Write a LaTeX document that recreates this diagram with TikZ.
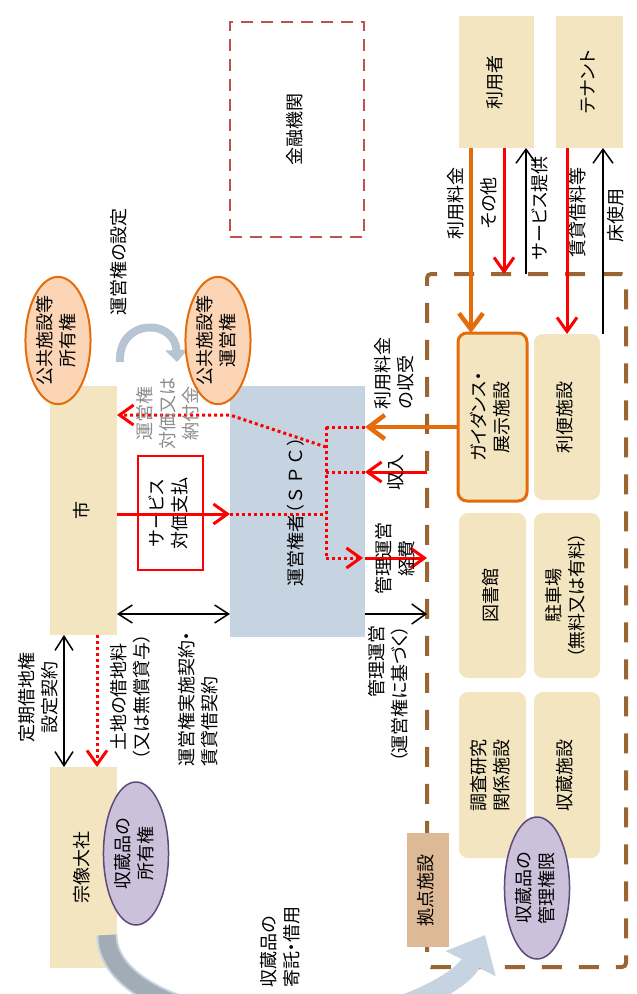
\documentclass[tikz,border=0pt]{standalone}
\usepackage{fontspec}
\usepackage{graphicx}
\newfontfamily\jpfont[RawFeature={+palt}]{Noto Sans CJK JP}
\usetikzlibrary{arrows.meta,shapes.geometric}
\definecolor{beige}{HTML}{F2E5C0}
\definecolor{spcblue}{HTML}{C6D3E0}
\definecolor{ellfill}{HTML}{FBD5B5}
\definecolor{orline}{HTML}{E46C0A}
\definecolor{purfill}{HTML}{CCC1DA}
\definecolor{purline}{HTML}{5F497A}
\definecolor{basefill}{HTML}{DDB995}
\definecolor{brownd}{HTML}{996633}
\definecolor{bankred}{HTML}{C0504D}
\definecolor{redl}{HTML}{FF0000}
\definecolor{graytxt}{HTML}{8C8C8C}
\definecolor{arrdark}{HTML}{A2ACB7}
\definecolor{arrlight}{HTML}{C6D3E0}
\definecolor{arrmid}{HTML}{B7C5D3}
\newcommand{\vtxt}[1]{\rotatebox{90}{\begin{tabular}{@{}c@{}}#1\end{tabular}}}
\newcommand{\vtxtl}[1]{\rotatebox{90}{\begin{tabular}{@{}l@{}}#1\end{tabular}}}
\newcommand{\vtxtr}[1]{\rotatebox{90}{\begin{tabular}{@{}r@{}}#1\end{tabular}}}
\begin{document}
\begin{tikzpicture}[x=1pt,y=-1pt,
  every node/.style={font=\jpfont\fontsize{18}{23}\selectfont, inner sep=0pt, outer sep=0pt},
  bx/.style={rectangle, fill=beige, draw=none},
  rbx/.style={rectangle, fill=beige, draw=none, rounded corners=9pt},
  oell/.style={ellipse, fill=ellfill, draw=orline, line width=2pt},
  pell/.style={ellipse, fill=purfill, draw=purline, line width=1.5pt},
  rsolid/.style={draw=redl, line width=3pt},
  rdot/.style={draw=redl, line width=3pt, dash pattern=on 3pt off 3pt},
  bsolid/.style={draw=black, line width=1.5pt},
  osolid/.style={draw=orline, line width=4.5pt},
  tipend/.style={-{Straight Barb[length=14pt,width=20pt]}},
  tipboth/.style={{Straight Barb[length=14pt,width=18pt]}-{Straight Barb[length=14pt,width=18pt]}},
  tipor/.style={-{Straight Barb[length=16pt,width=24pt]}}
]
\useasboundingbox (0,0) rectangle (637,994);

% financial institution
\node[draw=bankred, line width=2.5pt, dash pattern=on 12pt off 8pt, minimum width=134pt, minimum height=215pt] (bank) at (297,129.5) {\vtxt{金融機関}};

% users / tenants
\node[bx, minimum width=75pt, minimum height=132pt] (user) at (496.5,82) {\vtxt{利用者}};
\node[bx, minimum width=67pt, minimum height=132pt] (tenant) at (589.5,82) {\vtxt{テナント}};

% dashed facility area
\node[draw=brownd, line width=4pt, dash pattern=on 20pt off 17pt, rounded corners=4pt, minimum width=199pt, minimum height=693pt] (area) at (526.5,620.5) {};

% inner facilities
\node[rbx, draw=orline, line width=3pt, minimum width=69pt, minimum height=168pt] (guide) at (492.5,417) {\vtxt{ガイダンス・\\展示施設}};
\node[rbx, minimum width=66pt, minimum height=166pt] (conv) at (567,417) {\vtxt{利便施設}};
\node[rbx, minimum width=67pt, minimum height=165pt] (lib) at (492.5,595.5) {\vtxt{図書館}};
\node[rbx, minimum width=66pt, minimum height=165pt] (park) at (567,595.5) {\vtxt{駐車場\\（無料又は有料）}};
\node[rbx, minimum width=67pt, minimum height=166pt] (research) at (492.5,775) {\vtxt{調査研究\\関係施設}};
\node[rbx, minimum width=66pt, minimum height=166pt] (storage) at (567,775) {\vtxt{収蔵施設}};
\node[rectangle, fill=basefill, minimum width=42pt, minimum height=114pt] (base) at (428,890) {\vtxt{拠点施設}};

% left side boxes
\node[bx, minimum width=67pt, minimum height=249pt] (city) at (83.5,510.5) {\vtxt{市}};
\node[bx, minimum width=67pt, minimum height=201pt] (shrine) at (83.5,867.5) {\vtxt{宗像大社}};
\node[rectangle, fill=spcblue, minimum width=135pt, minimum height=251pt] (spc) at (297.5,511.5) {\vtxt{運営権者（\hspace{3pt}Ｓ\hspace{6pt}Ｐ\hspace{6pt}Ｃ\hspace{3pt}）}};
\node[rectangle, fill=white, draw=redl, line width=1.5pt, minimum width=65pt, minimum height=114pt] (svc) at (170.5,513) {\vtxt{サービス\\対価支払}};

% helper coordinates
\coordinate (xo) at (471,0);
\coordinate (xa) at (504,0);
\coordinate (xb) at (526,0);
\coordinate (xc) at (567,0);
\coordinate (xd) at (603,0);
\coordinate (xe) at (64,0);
\coordinate (xf) at (97,0);
\coordinate (xg) at (326,0);
\coordinate (ya) at (0,427);
\coordinate (yb) at (0,472);
\coordinate (yc) at (0,558);
\coordinate (yd) at (0,614);
\coordinate (ye) at (0,514);
\coordinate (yf) at (0,447);
\coordinate (yg) at (0,415);

% top connectors
\draw[osolid, tipor] (user.south -| xo) -- (guide.north -| xo);
\draw[rsolid, tipend] (user.south -| xa) -- (area.north -| xa);
\draw[bsolid, tipend] (area.north -| xb) -- (user.south -| xb);
\draw[rsolid, tipend] (tenant.south -| xc) -- (conv.north -| xc);
\draw[bsolid, tipend] (conv.north -| xd) -- (tenant.south -| xd);

% middle connectors
\draw[rdot] (xg |- ya) -- (spc.east |- ya);
\draw[rdot] (xg |- yb) -- (spc.east |- yb);
\draw[rdot] (xg |- ya) -- (xg |- yc);
\draw[rdot] (spc.west |- ye) -- (xg |- ye);
\draw[rdot, tipend] (xg |- yc) -- ([xshift=-2pt]spc.east |- yc);
\draw[rdot, tipend] (xg |- yf) -- (spc.west |- yg) -- (city.east |- yg);
\draw[osolid, tipor] (guide.west |- ya) -- (spc.east |- ya);
\draw[rsolid, tipend] (area.west |- yb) -- (spc.east |- yb);
\draw[rsolid, tipend] (spc.east |- yc) -- (area.west |- yc);
\draw[bsolid, tipend] (spc.east |- yd) -- (area.west |- yd);
\draw[rsolid, tipend] (city.east |- ye) -- (spc.west |- ye);
\draw[bsolid, tipboth] (city.east |- yd) -- (spc.west |- yd);
\draw[bsolid, tipboth] (city.south -| xe) -- (shrine.north -| xe);
\draw[rdot, tipend] (city.south -| xf) -- (shrine.north -| xf);

% curved arrows
\coordinate (ca1) at (120,362);
\coordinate (ca2) at (177,362);
\draw[draw=arrmid, line width=8pt, -{Triangle[length=12pt,width=22pt]}] (ca1) .. controls (118,318) and (175,318) .. (ca2);

\begin{scope}
\clip (0,0) rectangle (637,994);
\coordinate (cb1) at (107,935);
\coordinate (cb0) at (287,1024);
\coordinate (cb2) at (485,935);
\draw[draw=arrlight, line width=20pt, -{Triangle[length=32pt,width=54pt]}] (cb0) .. controls (380,1026) and (460,985) .. (cb2);
\draw[draw=arrlight, line width=21pt] (cb1) .. controls (107,990) and (200,1022) .. (cb0);
\draw[draw=arrdark, line width=17pt] (cb1) .. controls (107,990) and (200,1022) .. (cb0);
\end{scope}

% ellipses
\node[oell, minimum width=62pt, minimum height=127pt] (own) at (58,340.5) {\vtxt{公共施設等\\所有権}};
\node[oell, minimum width=62pt, minimum height=127pt] (opr) at (218,340.5) {\vtxt{公共施設等\\運営権}};
\node[pell, minimum width=62pt, minimum height=143pt] (colown) at (136,853.5) {\vtxt{収蔵品の\\所有権}};
\node[pell, minimum width=62pt, minimum height=142pt] (mgmt) at (537,888) {\vtxt{収蔵品の\\管理権限}};

% labels
\node (l1) at (458,203) {\vtxt{利用料金}};
\node (l2) at (491,203) {\vtxt{その他}};
\node (l3) at (542,208) {\vtxt{サービス提供}};
\node (l4) at (580,212) {\vtxt{賃貸借料等}};
\node (l5) at (618,215) {\vtxt{床使用}};
\node (l6) at (396,373) {\vtxtl{利用料金\\の収受}};
\node (l7) at (398,472) {\vtxt{収入}};
\node (l8) at (397,558) {\vtxt{管理運営\\経費}};
\node (l9) at (390,694) {\vtxtr{管理運営\\（運営権に基づく）}};
\node (l10) at (121,262) {\vtxt{運営権の設定}};
\node[text=graytxt] (l11) at (170,413) {\vtxt{運営権\\対価又は\\納付金}};
\node (l12) at (200,699) {\vtxtl{運営権実施契約・\\賃貸借契約}};
\node (l13) at (40,697) {\vtxt{定期借地権\\設定契約}};
\node (l14) at (132,697) {\vtxt{土地の借地料\\（又は無償貸与）}};
\node (l15) at (282,947) {\vtxtl{収蔵品の\\寄託・借用}};
\end{tikzpicture}
\end{document}
